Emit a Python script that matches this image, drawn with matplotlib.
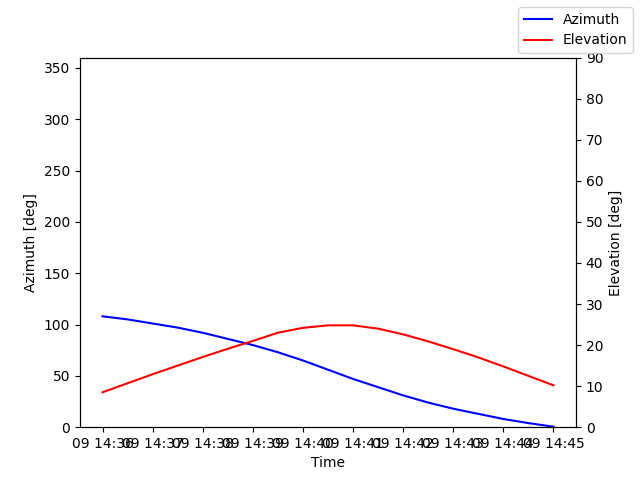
import matplotlib
matplotlib.use('Agg')
import matplotlib.pyplot as plt
import matplotlib.dates as mdates
import numpy as np
import pandas as pd

times = pd.date_range('2024-01-09 14:36:00', '2024-01-09 14:45:00', freq='30s')
azimuth = [108, 105, 101, 97, 92, 86, 80, 73, 65, 56, 47, 39, 31, 24, 18, 13, 8, 4, 0.5]
elevation = [8.5, 10.7, 12.9, 15.0, 17.1, 19.1, 21.0, 23.0, 24.2, 24.8, 24.8, 24.0,
             22.6, 20.9, 19.0, 17.0, 14.8, 12.5, 10.2]

fig, ax = plt.subplots(figsize=(6.4, 4.8), dpi=100)
l1, = ax.plot(times, azimuth, color='blue', label='Azimuth')
ax.set_ylim(0, 360)
ax.set_ylabel('Azimuth [deg]')
ax.set_xlabel('Time')
ax.xaxis.set_major_locator(mdates.MinuteLocator())
ax.xaxis.set_major_formatter(mdates.DateFormatter('%d %H:%M'))

ax2 = ax.twinx()
l2, = ax2.plot(times, elevation, color='red', label='Elevation')
ax2.set_ylim(0, 90)
ax2.set_ylabel('Elevation [deg]')

fig.legend(handles=[l1, l2], loc='upper right')
fig.savefig('out.png')
